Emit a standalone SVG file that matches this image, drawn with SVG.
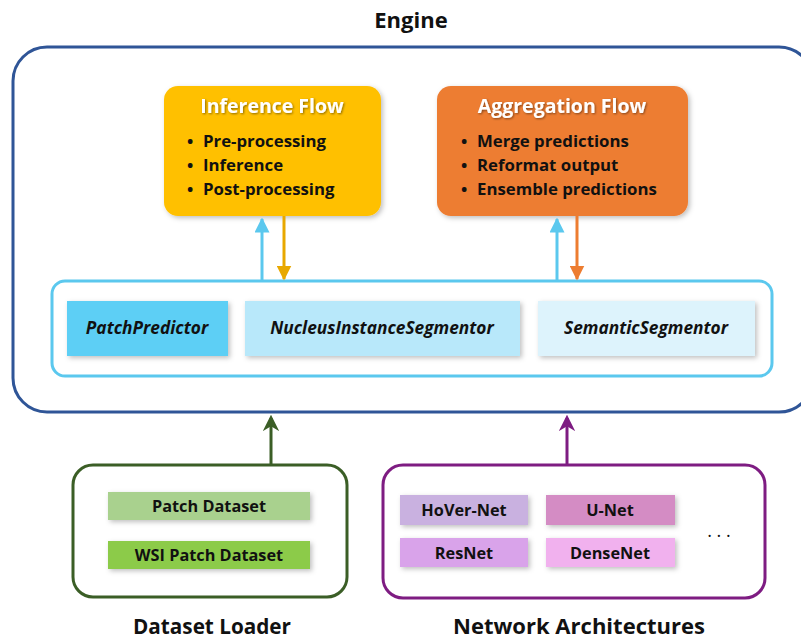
<svg xmlns="http://www.w3.org/2000/svg" width="801" height="639" viewBox="0 0 801 639">
<style>
text{font-family:"Open Sans","Liberation Sans",sans-serif;font-weight:bold;fill:#111}
.title{font-size:22px}
.ftitle{font-size:19.5px;fill:#fff}
.bul{font-size:16.8px}
.mod{font-size:17.3px;font-style:italic;text-anchor:middle}
.item{font-size:16.3px;text-anchor:middle}
.cap{font-size:22px;text-anchor:middle}
</style>
<defs>
<filter id="sh" x="-10%" y="-20%" width="125%" height="150%">
<feDropShadow dx="2" dy="2" stdDeviation="2.5" flood-color="#000" flood-opacity="0.25"/>
</filter>
<filter id="tsh" x="-5%" y="-20%" width="110%" height="150%">
<feDropShadow dx="1" dy="1" stdDeviation="0.8" flood-color="#000" flood-opacity="0.45"/>
</filter>
<marker id="aCyan" viewBox="0 0 10 10" refX="9" refY="5" markerWidth="5" markerHeight="5" orient="auto"><path d="M0,0L10,5L0,10z" fill="#5BC8EE"/></marker>
<marker id="aYel" viewBox="0 0 10 10" refX="9" refY="5" markerWidth="5" markerHeight="5" orient="auto"><path d="M0,0L10,5L0,10z" fill="#E8A800"/></marker>
<marker id="aOr" viewBox="0 0 10 10" refX="9" refY="5" markerWidth="5" markerHeight="5" orient="auto"><path d="M0,0L10,5L0,10z" fill="#ED7D31"/></marker>
<marker id="aGr" viewBox="0 0 10 10" refX="8" refY="5" markerWidth="5.5" markerHeight="5.5" orient="auto"><path d="M0,0L10,5L0,10L3,5z" fill="#3B5E26"/></marker>
<marker id="aPu" viewBox="0 0 10 10" refX="8" refY="5" markerWidth="5.5" markerHeight="5.5" orient="auto"><path d="M0,0L10,5L0,10L3,5z" fill="#7E1C82"/></marker>
</defs>
<rect width="801" height="639" fill="#fff"/>

<g id="engine">
<text class="title" x="411" y="28" text-anchor="middle">Engine</text>
<rect x="13" y="47" width="800" height="365" rx="34" fill="none" stroke="#2F5597" stroke-width="3"/>
</g>

<g id="inference-flow">
<rect x="164" y="86" width="217" height="130" rx="14" fill="#FFC000" filter="url(#sh)"/>
<text class="ftitle" x="272" y="113" text-anchor="middle" filter="url(#tsh)">Inference Flow</text>
<text class="bul" x="187" y="147">•</text><text class="bul" x="203" y="147">Pre-processing</text>
<text class="bul" x="187" y="171">•</text><text class="bul" x="203" y="171">Inference</text>
<text class="bul" x="187" y="195">•</text><text class="bul" x="203" y="195">Post-processing</text>
</g>

<g id="aggregation-flow">
<rect x="437" y="86" width="251" height="130" rx="14" fill="#ED7D31" filter="url(#sh)"/>
<text class="ftitle" x="562" y="113" text-anchor="middle" filter="url(#tsh)">Aggregation Flow</text>
<text class="bul" x="461" y="147">•</text><text class="bul" x="477" y="147">Merge predictions</text>
<text class="bul" x="461" y="171">•</text><text class="bul" x="477" y="171">Reformat output</text>
<text class="bul" x="461" y="195">•</text><text class="bul" x="477" y="195">Ensemble predictions</text>
</g>

<g id="engine-modules">
<rect x="52" y="281" width="720" height="95" rx="13" fill="none" stroke="#5BC8EE" stroke-width="3"/>
</g>
<g id="patch-predictor">
<rect x="67" y="301" width="161" height="55" fill="#5DCFF5" filter="url(#sh)"/>
<text class="mod" x="147" y="334">PatchPredictor</text>
</g>
<g id="nucleus-instance-segmentor">
<rect x="245" y="301" width="275" height="55" fill="#B8E8FA" filter="url(#sh)"/>
<text class="mod" x="382" y="334">NucleusInstanceSegmentor</text>
</g>
<g id="semantic-segmentor">
<rect x="538" y="301" width="217" height="55" fill="#DDF3FC" filter="url(#sh)"/>
<text class="mod" x="646" y="334">SemanticSegmentor</text>
</g>

<g id="dataset-loader">
<rect x="73" y="465" width="274" height="132" rx="20" fill="none" stroke="#3B5E26" stroke-width="3"/>
<rect x="108" y="492" width="202" height="28" fill="#A9D18E" filter="url(#sh)"/>
<text class="item" x="209" y="512">Patch Dataset</text>
<rect x="108" y="541" width="202" height="28" fill="#8CCB4A" filter="url(#sh)"/>
<text class="item" x="209" y="561">WSI Patch Dataset</text>
<text class="cap" x="212" y="634" textLength="158" lengthAdjust="spacingAndGlyphs">Dataset Loader</text>
</g>

<g id="network-architectures">
<rect x="383" y="465" width="382" height="133" rx="20" fill="none" stroke="#7E1C82" stroke-width="3"/>
<rect x="400" y="495" width="128" height="30" fill="#C9B1E0" filter="url(#sh)"/>
<text class="item" x="464" y="516">HoVer-Net</text>
<rect x="546" y="495" width="129" height="30" fill="#D48CC4" filter="url(#sh)"/>
<text class="item" x="610" y="516">U-Net</text>
<rect x="400" y="538" width="128" height="29" fill="#D9A3EA" filter="url(#sh)"/>
<text class="item" x="464" y="559">ResNet</text>
<rect x="546" y="538" width="129" height="29" fill="#F1B1EE" filter="url(#sh)"/>
<text class="item" x="610" y="559">DenseNet</text>
<text class="item" x="719" y="537" style="font-weight:normal;font-size:18px">. . .</text>
<text class="cap" x="579" y="634" textLength="252" lengthAdjust="spacingAndGlyphs">Network Architectures</text>
</g>

<g id="connectors" fill="none" stroke-width="3">
<line x1="262" y1="281" x2="262" y2="219" stroke="#5BC8EE" marker-end="url(#aCyan)"/>
<line x1="284" y1="216" x2="284" y2="279" stroke="#E8A800" marker-end="url(#aYel)"/>
<line x1="557" y1="281" x2="557" y2="219" stroke="#5BC8EE" marker-end="url(#aCyan)"/>
<line x1="577" y1="216" x2="577" y2="279" stroke="#ED7D31" marker-end="url(#aOr)"/>
<line x1="271" y1="464" x2="271" y2="418" stroke="#3B5E26" marker-end="url(#aGr)"/>
<line x1="567" y1="464" x2="567" y2="418" stroke="#7E1C82" marker-end="url(#aPu)"/>
</g>
</svg>
